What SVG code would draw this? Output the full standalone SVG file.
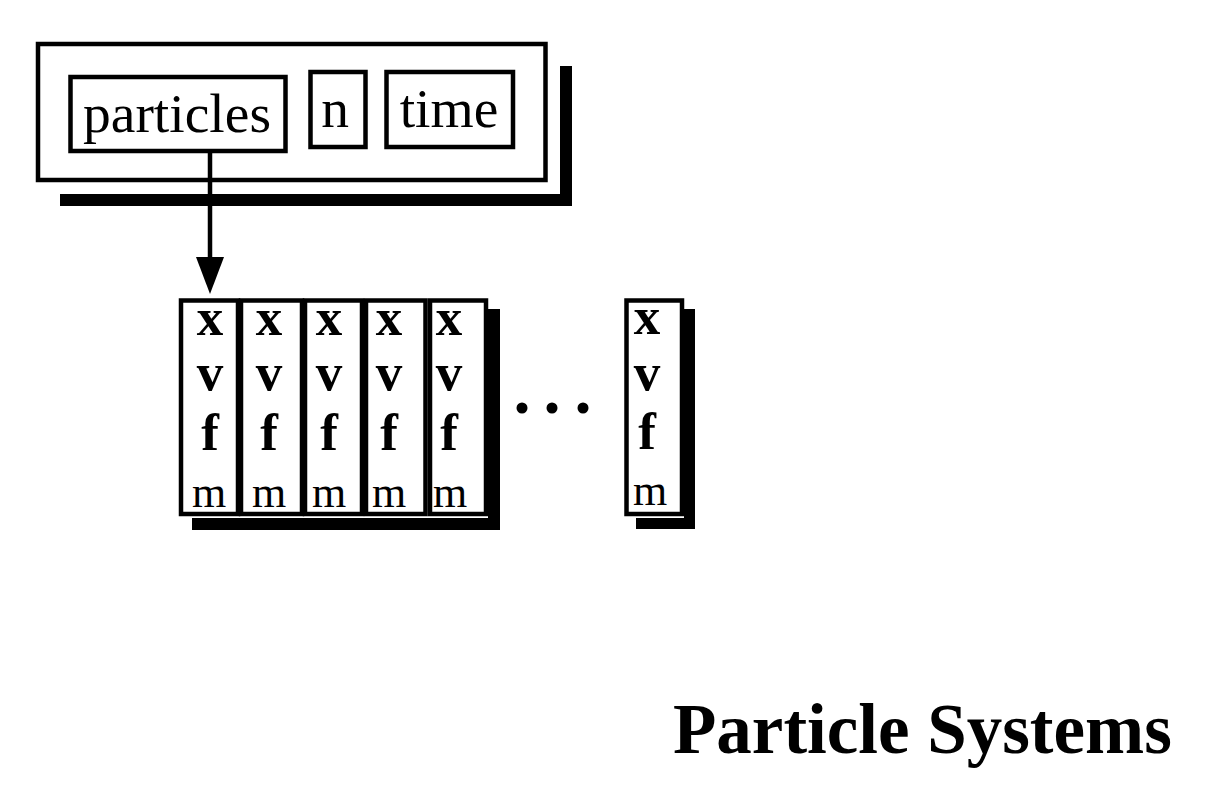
<svg xmlns="http://www.w3.org/2000/svg" width="1214" height="792" viewBox="0 0 1214 792">
<style>
.box{fill:#fff;stroke:#000;stroke-width:4.5}
.sh{fill:#000}
.lbl{font-family:"Liberation Serif","Times New Roman",serif;fill:#000}
.big{font-size:55.5px}
.b{font-family:"Liberation Serif","Times New Roman",serif;font-weight:bold;font-size:53px;text-anchor:middle;fill:#000}
.m{font-family:"Liberation Serif","Times New Roman",serif;font-size:44px;text-anchor:middle;fill:#000}
.title{font-family:"Liberation Serif","Times New Roman",serif;font-weight:bold;font-size:71px;fill:#000}
</style>
<rect width="1214" height="792" fill="#fff"/>

<g id="system">
  <rect class="sh" x="560" y="66" width="12" height="140"/>
  <rect class="sh" x="60" y="194" width="512" height="12"/>
  <rect class="box" x="38" y="44" width="507.5" height="136"/>
</g>
<g id="particles">
  <rect class="box" x="70.5" y="77" width="215" height="74"/>
  <text class="lbl big" x="83" y="131.5">particles</text>
</g>
<g id="n">
  <rect class="box" x="310.5" y="72" width="55" height="75"/>
  <text class="lbl big" x="335" y="127" text-anchor="middle">n</text>
</g>
<g id="time">
  <rect class="box" x="386.5" y="72" width="126.5" height="75"/>
  <text class="lbl big" x="449" y="127" text-anchor="middle">time</text>
</g>

<g id="array-shadow">
  <rect class="sh" x="488" y="309" width="12" height="221"/>
  <rect class="sh" x="192" y="518" width="308" height="12"/>
</g>
<g id="p1">
  <rect class="box" x="181" y="300.5" width="57" height="213.5"/>
  <text class="b" x="210" y="335">x</text><text class="b" x="210" y="389.5">v</text><text class="b" x="210" y="450">f</text><text class="m" x="209" y="506.5">m</text>
</g>
<g id="p2">
  <rect class="box" x="241" y="300.5" width="61" height="213.5"/>
  <text class="b" x="269" y="335">x</text><text class="b" x="269" y="389.5">v</text><text class="b" x="269" y="450">f</text><text class="m" x="269" y="506.5">m</text>
</g>
<g id="p3">
  <rect class="box" x="305" y="300.5" width="57" height="213.5"/>
  <text class="b" x="329" y="335">x</text><text class="b" x="329" y="389.5">v</text><text class="b" x="329" y="450">f</text><text class="m" x="329" y="506.5">m</text>
</g>
<g id="p4">
  <rect class="box" x="366" y="300.5" width="59.5" height="213.5"/>
  <text class="b" x="389" y="335">x</text><text class="b" x="389" y="389.5">v</text><text class="b" x="389" y="450">f</text><text class="m" x="389" y="506.5">m</text>
</g>
<g id="p5">
  <rect class="box" x="430" y="300.5" width="56" height="213.5"/>
  <text class="b" x="449" y="335">x</text><text class="b" x="449" y="389.5">v</text><text class="b" x="449" y="450">f</text><text class="m" x="450" y="506.5">m</text>
</g>
<g id="ellipsis">
  <circle cx="522" cy="408" r="5.5"/>
  <circle cx="552" cy="408" r="5.5"/>
  <circle cx="583" cy="408" r="5.5"/>
</g>
<g id="pn">
  <rect class="sh" x="684" y="309" width="11" height="220"/>
  <rect class="sh" x="636" y="518" width="59" height="11"/>
  <rect class="box" x="626.5" y="300.5" width="55.5" height="213.5"/>
  <text class="b" x="647" y="334">x</text><text class="b" x="647" y="390">v</text><text class="b" x="647" y="449">f</text><text class="m" x="650" y="505">m</text>
</g>

<g id="connectors">
  <line x1="210" y1="151" x2="210" y2="258" stroke="#000" stroke-width="4.5"/>
  <polygon points="196,257 224,257 210,294" fill="#000"/>
</g>

<text class="title" x="673" y="753">Particle Systems</text>
</svg>
